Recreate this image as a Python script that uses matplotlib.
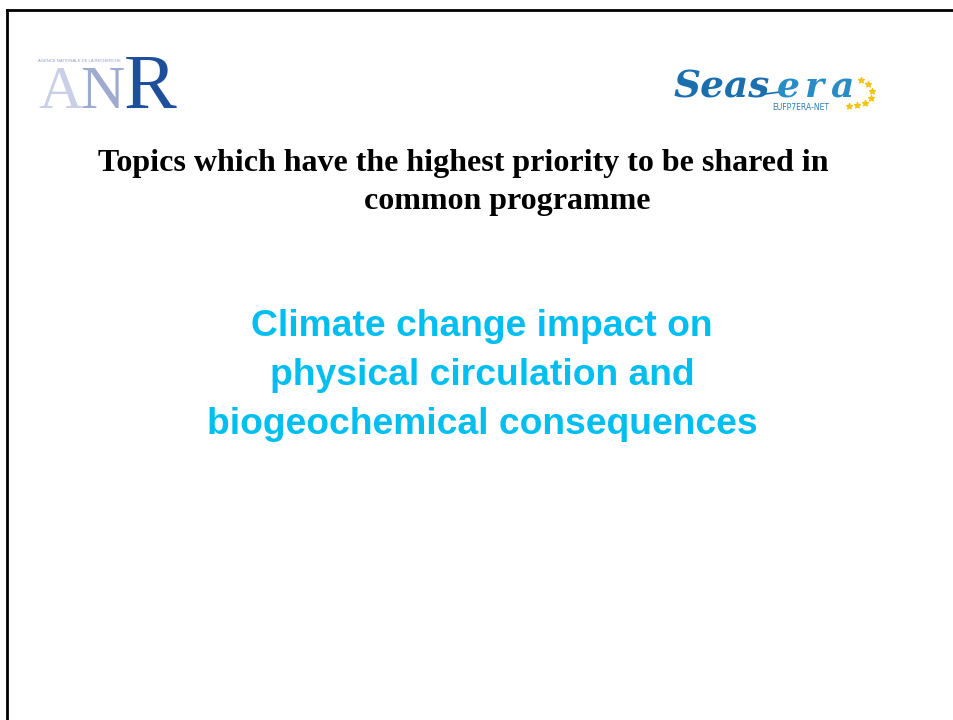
import matplotlib
matplotlib.use("Agg")
import matplotlib.pyplot as plt

# slide texts
title_lines = ["Topics which have the highest priority to be shared in",
               "common programme"]
topic_lines = ["Climate change impact on",
               "physical circulation and",
               "biogeochemical consequences"]
anr_letters = ["A", "N", "R"]
anr_colors = ["#c9d0e6", "#9eaad0", "#1d4f9a"]
anr_sizes = [44, 44, 57]

fig = plt.figure(figsize=(9.54, 7.2), dpi=100)
ax = fig.add_axes([0, 0, 1, 1])
ax.set_xlim(0, 954)
ax.set_ylim(720, 0)
ax.axis('off')

# frame (left and top edges only visible)
ax.plot([7, 7], [720, 10], color='k', lw=2, solid_capstyle='projecting')
ax.plot([7, 954], [10, 10], color='k', lw=2, solid_capstyle='projecting')

# ANR logo
ax.text(38, 61, "AGENCE NATIONALE DE LA RECHERCHE", fontsize=3.0,
        color="#8f9cc6", family='Liberation Sans', va='center', ha='left')
xs = [38, 80, 124]
for x, l, c, s in zip(xs, anr_letters, anr_colors, anr_sizes):
    ax.text(x, 108, l, fontsize=s, color=c, family='Liberation Serif',
            va='baseline', ha='left')

# Seas-era logo
ax.text(674, 97, "Seas", fontsize=27, color="#1b6fae", family='DejaVu Serif',
        style='italic', weight='bold', va='baseline')
ax.plot([765, 780], [94, 92], color="#1b6fae", lw=1.2)
for x, l in zip([777, 805, 831], "era"):
    ax.text(x, 97, l, fontsize=26, color="#2a8cc4", family='DejaVu Serif',
            style='italic', weight='bold', va='baseline')
ax.text(772, 107, "EUFP7ERA-NET", fontsize=5.5, color="#2a7fb8",
        family='DejaVu Sans', va='center')
sx = [861, 868, 872, 871, 865, 857, 849]
sy = [80, 84, 91, 98, 103, 105, 106]
ax.scatter(sx, sy, marker='*', s=18, color="#f2c40f", zorder=3)

# heading
ax.text(463, 163, title_lines[0], fontsize=23, weight='bold',
        family='Liberation Serif', ha='center', va='center')
ax.text(507, 201, title_lines[1], fontsize=23, weight='bold',
        family='Liberation Serif', ha='center', va='center')

# topic
for i, t in enumerate(topic_lines):
    ax.text(482, 326 + 49.5 * i, t, fontsize=26.8, weight='bold',
            family='Liberation Sans', color="#00bff0", ha='center', va='center')

fig.savefig("out.png", dpi=100)
